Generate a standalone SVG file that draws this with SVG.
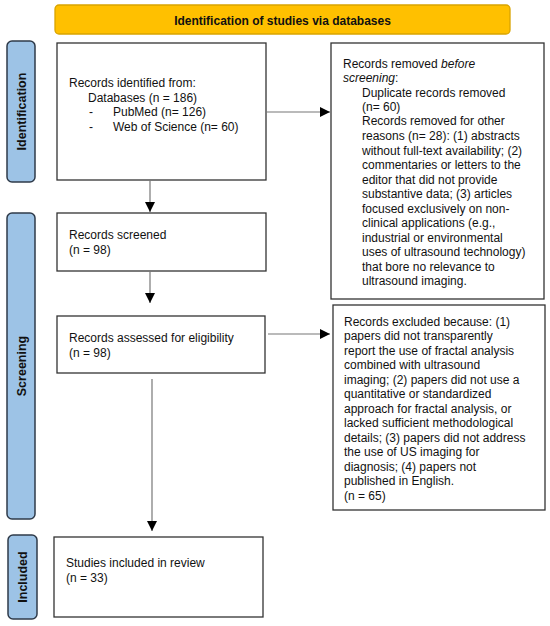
<svg xmlns="http://www.w3.org/2000/svg" width="550" height="626" viewBox="0 0 550 626">
<defs>
<marker id="ah" viewBox="0 0 10 10" refX="10" refY="5" markerWidth="10" markerHeight="10" markerUnits="userSpaceOnUse" orient="auto">
<path d="M0,0 L10,5 L0,10 z" fill="#000"/>
</marker>
</defs>
<style>
.box{fill:#fff;stroke:#333;stroke-width:1.3}
.side{fill:#9DC3E6;stroke:#2F3B4A;stroke-width:1.5}
.hdr{fill:#FFC000;stroke:#D9A400;stroke-width:1.3}
text{font-family:"Liberation Sans",Arial,sans-serif;font-size:12px;fill:#111}
.b{font-weight:bold}
.con{stroke:#777;stroke-width:1.2;fill:none;marker-end:url(#ah)}
</style>
<rect width="550" height="626" fill="#fff"/>
<g id="header">
<rect class="hdr" x="55" y="5" width="455" height="29" rx="4"/>
<text class="b" x="282.5" y="25" text-anchor="middle">Identification of studies via databases</text>
</g>
<g id="lbl-identification">
<rect class="side" x="7" y="41" width="28" height="141" rx="5"/>
<text class="b" transform="translate(25.5,111.5) rotate(-90)" text-anchor="middle" style="font-size:12.5px">Identification</text>
</g>
<g id="lbl-screening">
<rect class="side" x="7" y="213" width="28" height="306" rx="5"/>
<text class="b" transform="translate(25.5,366) rotate(-90)" text-anchor="middle" style="font-size:12.5px">Screening</text>
</g>
<g id="lbl-included">
<rect class="side" x="8" y="535" width="29" height="84" rx="5"/>
<text class="b" transform="translate(27,577) rotate(-90)" text-anchor="middle" style="font-size:12.5px">Included</text>
</g>
<g id="identified">
<rect class="box" x="57" y="43" width="209" height="137"/>
<text x="69" y="87">Records identified from:</text>
<text x="88" y="102">Databases (n = 186)</text>
<text x="89" y="116">-</text><text x="113" y="116">PubMed (n= 126)</text>
<text x="89" y="131">-</text><text x="113" y="131">Web of Science (n= 60)</text>
</g>
<g id="removed">
<rect class="box" x="331" y="43" width="213" height="256"/>
<text x="343" y="68">Records removed <tspan font-style="italic">before</tspan></text>
<text x="343" y="82"><tspan font-style="italic">screening</tspan>:</text>
<text x="362" y="97">Duplicate records removed</text>
<text x="362" y="111">(n= 60)</text>
<text x="362" y="125">Records removed for other</text>
<text x="362" y="140">reasons (n= 28): (1) abstracts</text>
<text x="362" y="154.5">without full-text availability; (2)</text>
<text x="362" y="169">commentaries or letters to the</text>
<text x="362" y="183.5">editor that did not provide</text>
<text x="362" y="198">substantive data; (3) articles</text>
<text x="362" y="212.5">focused exclusively on non-</text>
<text x="362" y="227">clinical applications (e.g.,</text>
<text x="362" y="241.5">industrial or environmental</text>
<text x="362" y="256">uses of ultrasound technology)</text>
<text x="362" y="270.5">that bore no relevance to</text>
<text x="362" y="285">ultrasound imaging.</text>
</g>
<g id="screened">
<rect class="box" x="57" y="213" width="209" height="58"/>
<text x="69" y="239">Records screened</text>
<text x="69" y="254">(n = 98)</text>
</g>
<g id="assessed">
<rect class="box" x="57" y="316" width="208" height="57"/>
<text x="69" y="342">Records assessed for eligibility</text>
<text x="69" y="357">(n = 98)</text>
</g>
<g id="excluded">
<rect class="box" x="333" y="305" width="212" height="205"/>
<text x="344" y="326">Records excluded because: (1)</text>
<text x="344" y="340">papers did not transparently</text>
<text x="344" y="354.5">report the use of fractal analysis</text>
<text x="344" y="369">combined with ultrasound</text>
<text x="344" y="383.5">imaging; (2) papers did not use a</text>
<text x="344" y="398">quantitative or standardized</text>
<text x="344" y="412.5">approach for fractal analysis, or</text>
<text x="344" y="427">lacked sufficient methodological</text>
<text x="344" y="441.5">details; (3) papers did not address</text>
<text x="344" y="456">the use of US imaging for</text>
<text x="344" y="470.5">diagnosis; (4) papers not</text>
<text x="344" y="485">published in English.</text>
<text x="344" y="499.5">(n = 65)</text>
</g>
<g id="included">
<rect class="box" x="54" y="537" width="209" height="80"/>
<text x="66" y="567">Studies included in review</text>
<text x="66" y="582">(n = 33)</text>
</g>
<g id="connectors">
<line class="con" x1="266" y1="112" x2="330" y2="112"/>
<line class="con" x1="150" y1="180" x2="150" y2="212"/>
<line class="con" x1="150" y1="271" x2="150" y2="303"/>
<line class="con" x1="268" y1="334" x2="330" y2="334"/>
<line class="con" x1="152" y1="379" x2="152" y2="531"/>
</g>
</svg>
